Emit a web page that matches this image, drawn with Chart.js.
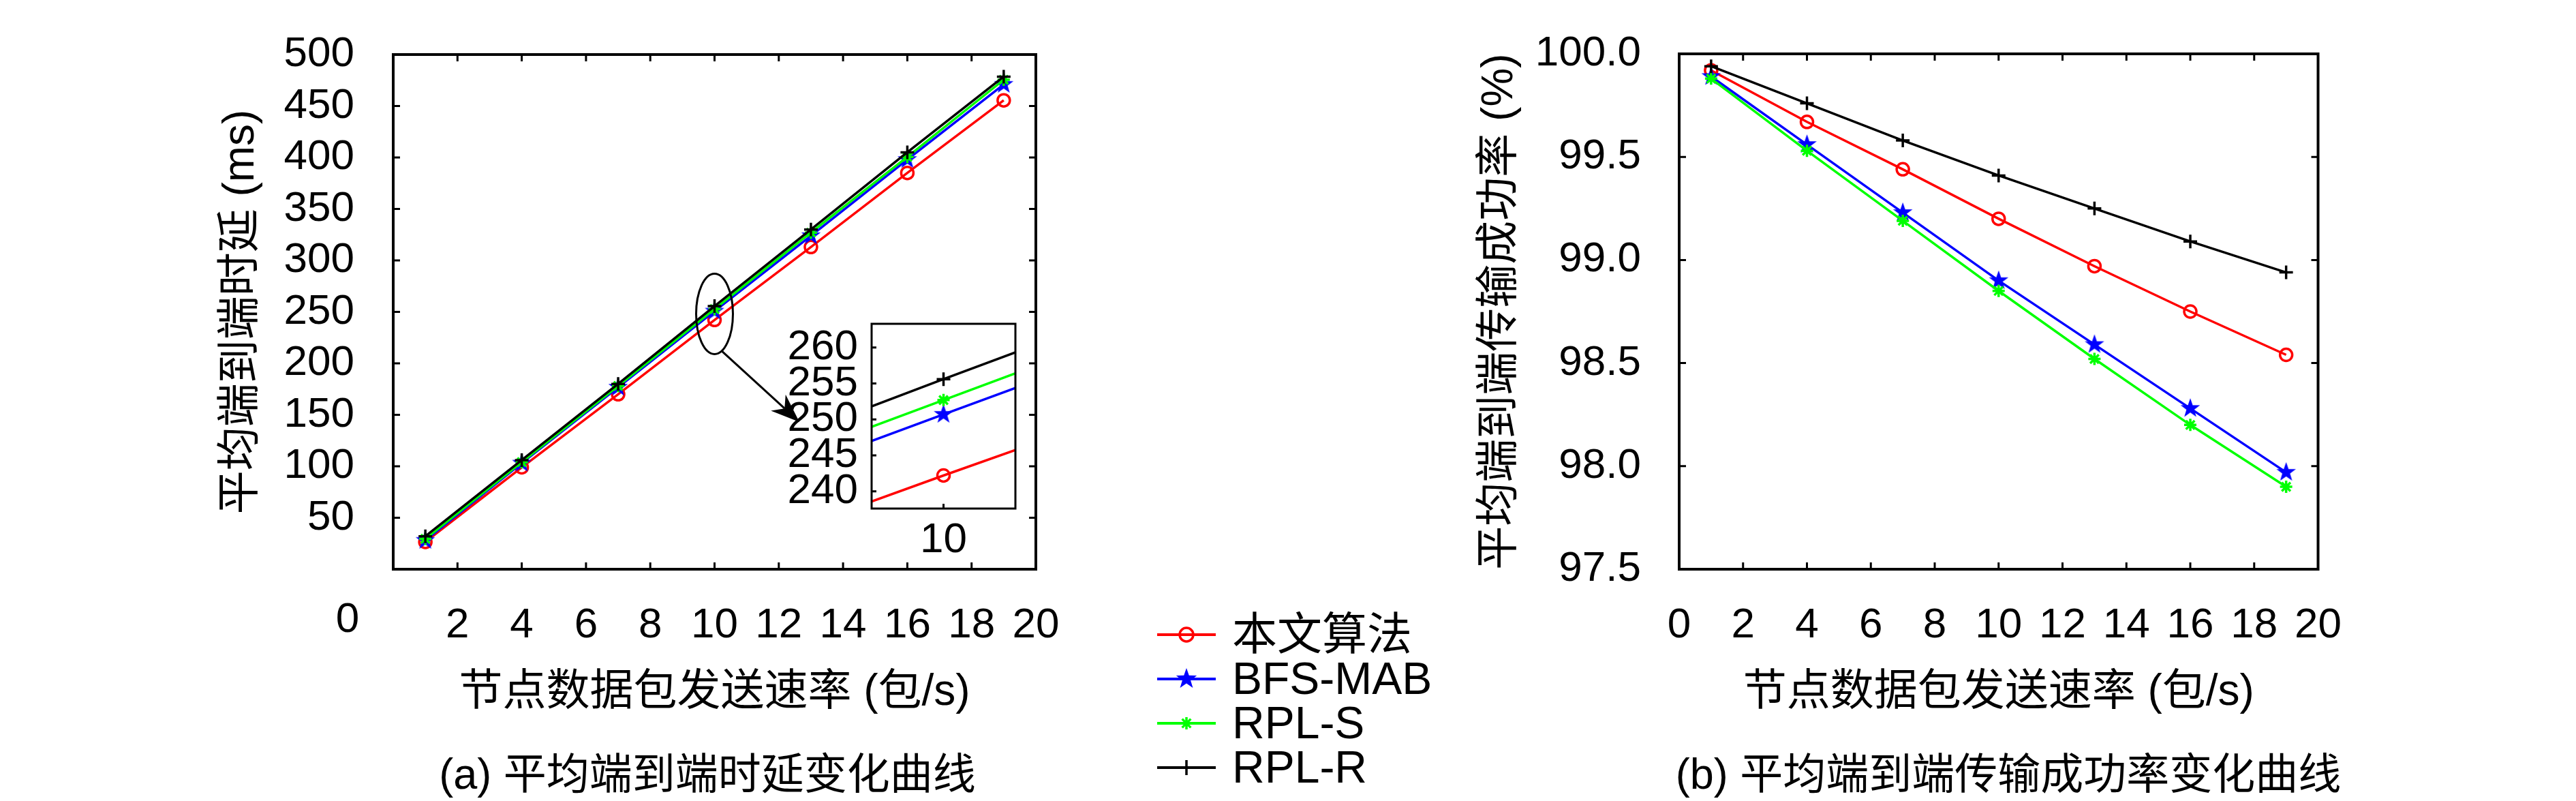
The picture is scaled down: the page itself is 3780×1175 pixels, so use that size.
<!DOCTYPE html>
<html>
<head>
<meta charset="utf-8">
<script src="https://cdn.jsdelivr.net/npm/chart.js@4.4.1/dist/chart.umd.min.js"></script>
<style>
  html, body { margin: 0; padding: 0; background: #fff; }
  body { width: 3780px; height: 1175px; position: relative; overflow: hidden;
         font-family: "Liberation Sans", "Noto Sans CJK SC", sans-serif; color: #000; }
  .box { position: absolute; }
  .caption { position: absolute; width: 1200px; top: 1100px; text-align: center;
             font-size: 63px; line-height: 70px; white-space: nowrap; }
  #legend { position: absolute; left: 1690px; top: 898px; }
  .row { display: flex; align-items: center; height: 65px; }
  .row canvas { width: 110px; height: 40px; margin-right: 8px; }
  .row span { font-size: 66px; line-height: 65px; white-space: nowrap; }
</style>
</head>
<body>
<div class="box" style="left:0;top:0;width:1600px;height:1060px"><canvas id="delay-chart"></canvas></div>
<div class="box" style="left:1800px;top:0;width:1680px;height:1060px"><canvas id="pdr-chart"></canvas></div>
<div class="box" style="left:1100px;top:400px;width:420px;height:440px"><canvas id="inset-chart"></canvas></div>
<div id="legend"></div>
<div class="caption" style="left:438px">(a) 平均端到端时延变化曲线</div>
<div class="caption" style="left:2347px">(b) 平均端到端传输成功率变化曲线</div>

<script>
const rates = [1, 4, 7, 10, 13, 16, 19]
const seriesNames = ["本文算法", "BFS-MAB", "RPL-S", "RPL-R"]

// delay (ms)
const delayOurs = [26.5, 99, 170, 242.2, 313, 385, 455.5]
const delayBfs = [28, 103, 176.8, 250.7, 324, 398, 471]
const delayRplS = [29.5, 104, 178, 252.7, 327, 400.5, 475.5]
const delayRplR = [32, 106, 180, 255.6, 330, 405, 478.5]

// delivery ratio (%)
const pdrOurs = [99.92, 99.67, 99.44, 99.20, 98.97, 98.75, 98.54]
const pdrBfs = [99.89, 99.56, 99.23, 98.90, 98.59, 98.28, 97.97]
const pdrRplS = [99.88, 99.53, 99.19, 98.85, 98.52, 98.20, 97.90]
const pdrRplR = [99.94, 99.76, 99.58, 99.41, 99.25, 99.09, 98.94]

const xTicks = [0, 2, 4, 6, 8, 10, 12, 14, 16, 18, 20]
const delayTicks = [50, 100, 150, 200, 250, 300, 350, 400, 450, 500]
const pdrTicks = [97.5, 98.0, 98.5, 99.0, 99.5, 100.0]
const insetYTicks = [240, 245, 250, 255, 260]
const insetXTicks = [10]

const FONT = '"Liberation Sans", "Noto Sans CJK SC", sans-serif'
const colors = ["#ff0000", "#0000ff", "#00ff00", "#000000"]

Chart.defaults.font.family = FONT
Chart.defaults.color = "#000"
Chart.defaults.devicePixelRatio = 1

function pentagram(color, r) {
  const c = document.createElement("canvas")
  const s = Math.ceil(2 * r + 4)
  c.width = c.height = s
  const g = c.getContext("2d")
  g.fillStyle = color
  g.beginPath()
  for (let k = 0; k < 10; k++) {
    const rad = k % 2 ? r * 0.4 : r
    const a = -Math.PI / 2 + k * Math.PI / 5
    const px = s / 2 + rad * Math.cos(a)
    const py = s / 2 + rad * Math.sin(a)
    k ? g.lineTo(px, py) : g.moveTo(px, py)
  }
  g.closePath()
  g.fill()
  return c
}

const markers = ["circle", pentagram(colors[1], 15), "star", "cross"]
const radii = [9, 15, 9, 10]

function makeDatasets(series) {
  return series.map((vals, i) => ({
    label: seriesNames[i],
    data: rates.map((x, j) => ({ x, y: vals[j] })),
    borderColor: colors[i],
    backgroundColor: colors[i],
    borderWidth: 3.5,
    pointStyle: markers[i],
    pointRadius: radii[i],
    pointBorderWidth: 3.5,
    pointBorderColor: colors[i],
    pointBackgroundColor: i === 0 ? "rgba(0,0,0,0)" : colors[i],
    order: 4 - i,
    tension: 0
  }))
}

// box round the plot and MATLAB style inward ticks
const framePlugin = {
  id: "frame",
  afterDraw(chart, args, o) {
    const { ctx, chartArea: a, scales } = chart
    const len = o.tick
    ctx.save()
    ctx.strokeStyle = "#000"
    ctx.lineWidth = o.width
    ctx.strokeRect(a.left, a.top, a.right - a.left, a.bottom - a.top)
    ctx.lineWidth = 3
    ctx.beginPath()
    scales.x.ticks.forEach((t) => {
      const px = scales.x.getPixelForValue(t.value)
      ctx.moveTo(px, a.bottom); ctx.lineTo(px, a.bottom - len)
      if (o.all) { ctx.moveTo(px, a.top); ctx.lineTo(px, a.top + len) }
    })
    scales.y.ticks.forEach((t) => {
      const py = scales.y.getPixelForValue(t.value)
      ctx.moveTo(a.left, py); ctx.lineTo(a.left + len, py)
      if (o.all) { ctx.moveTo(a.right, py); ctx.lineTo(a.right - len, py) }
    })
    ctx.stroke()
    ctx.restore()
  }
}

// the "0" of the left x axis sits left of the box in the source figure
const zeroLabelPlugin = {
  id: "zeroLabel",
  afterDraw(chart, args, o) {
    const { ctx, chartArea: a } = chart
    ctx.save()
    ctx.font = "62px " + FONT
    ctx.fillStyle = "#000"
    ctx.textAlign = "center"
    ctx.textBaseline = "middle"
    ctx.fillText("0", chart.scales.x.getPixelForValue(0) + o.dx, a.bottom + o.dy)
    ctx.restore()
  }
}

// ellipse round the zoomed region and arrow to the inset
const zoomMarkPlugin = {
  id: "zoomMark",
  afterDraw(chart, args, o) {
    const { ctx, scales: { x, y } } = chart
    const cx = x.getPixelForValue(o.x)
    const cy = y.getPixelForValue(o.y)
    ctx.save()
    ctx.strokeStyle = "#000"
    ctx.fillStyle = "#000"
    ctx.lineWidth = 3
    ctx.beginPath()
    ctx.ellipse(cx, cy, o.rx, o.ry, 0, 0, 2 * Math.PI)
    ctx.stroke()

    const sx = cx + o.rx * Math.cos(o.startAngle)
    const sy = cy + o.ry * Math.sin(o.startAngle)
    const [ex, ey] = o.end
    const ang = Math.atan2(ey - sy, ex - sx)
    const hl = 42, hw = 16
    const cos = Math.cos(ang), sin = Math.sin(ang)
    const bx = ex - hl * cos, by = ey - hl * sin
    const nx = ex - hl * 0.7 * cos, ny = ey - hl * 0.7 * sin
    ctx.beginPath()
    ctx.moveTo(sx, sy)
    ctx.lineTo(nx, ny)
    ctx.stroke()
    ctx.beginPath()
    ctx.moveTo(ex, ey)
    ctx.lineTo(bx + hw * sin, by - hw * cos)
    ctx.lineTo(nx, ny)
    ctx.lineTo(bx - hw * sin, by + hw * cos)
    ctx.closePath()
    ctx.fill()
    ctx.restore()
  }
}

function axisOptions(cfg) {
  return {
    x: {
      type: "linear",
      min: cfg.xMin, max: cfg.xMax,
      afterBuildTicks: (s) => { s.ticks = cfg.xTicks.map((v) => ({ value: v })) },
      afterFit: (s) => { s.height = cfg.xHeight },
      grid: { display: false },
      border: { display: false },
      ticks: {
        font: { size: 62, lineHeight: 1 },
        padding: cfg.xPad,
        maxRotation: 0,
        autoSkip: false,
        callback: cfg.xFmt || ((v) => String(v))
      },
      title: cfg.xTitle ? {
        display: true,
        text: cfg.xTitle,
        font: { size: 64, lineHeight: 1.2 },
        padding: { top: 0, bottom: 5 }
      } : { display: false }
    },
    y: {
      type: "linear",
      min: cfg.yMin, max: cfg.yMax,
      afterBuildTicks: (s) => { s.ticks = cfg.yTicks.map((v) => ({ value: v })) },
      afterFit: (s) => { s.width = cfg.yWidth },
      grid: { display: false },
      border: { display: false },
      ticks: {
        font: { size: 62, lineHeight: 1 },
        padding: cfg.yPad,
        autoSkip: false,
        callback: cfg.yFmt || ((v) => String(v))
      },
      title: cfg.yTitle ? {
        display: true,
        text: cfg.yTitle,
        font: { size: 64, lineHeight: 1.2 },
        padding: { top: cfg.yTitlePad, bottom: 0 }
      } : { display: false }
    }
  }
}

function baseChart(canvas, series, cfg, plugins, pluginOpts) {
  return new Chart(canvas, {
    type: "line",
    data: { datasets: makeDatasets(series) },
    options: {
      responsive: true,
      maintainAspectRatio: false,
      animation: false,
      events: [],
      layout: { padding: cfg.padding },
      scales: axisOptions(cfg),
      plugins: Object.assign({
        legend: { display: false },
        tooltip: { enabled: false }
      }, pluginOpts)
    },
    plugins
  })
}

baseChart(
  document.getElementById("delay-chart"),
  [delayOurs, delayBfs, delayRplS, delayRplR],
  {
    xMin: 0, xMax: 20, yMin: 0, yMax: 500,
    xTicks, yTicks: delayTicks,
    xFmt: (v) => (v === 0 ? "" : String(v)),
    xHeight: 225, yWidth: 577, xPad: 44, yPad: 49,
    padding: { top: 34, right: 80, left: 0, bottom: 0 },
    xTitle: "节点数据包发送速率 (包/s)",
    yTitle: "平均端到端时延 (ms)", yTitlePad: 316
  },
  [framePlugin, zeroLabelPlugin, zoomMarkPlugin],
  {
    frame: { tick: 10, all: true, width: 4 },
    zeroLabel: { dx: -67, dy: 75 },
    zoomMark: { x: 10, y: 248, rx: 27, ry: 59, startAngle: 1.17, end: [1173, 619] }
  }
)

baseChart(
  document.getElementById("pdr-chart"),
  [pdrOurs, pdrBfs, pdrRplS, pdrRplR],
  {
    xMin: 0, xMax: 20, yMin: 97.5, yMax: 100,
    xTicks, yTicks: pdrTicks,
    yFmt: (v) => Number(v).toFixed(1),
    xHeight: 225, yWidth: 664, xPad: 44, yPad: 48,
    padding: { top: 34, right: 73, left: 0, bottom: 0 },
    xTitle: "节点数据包发送速率 (包/s)",
    yTitle: "平均端到端传输成功率 (%)", yTitlePad: 363
  },
  [framePlugin],
  { frame: { tick: 10, all: true, width: 4 } }
)

baseChart(
  document.getElementById("inset-chart"),
  [delayOurs, delayBfs, delayRplS, delayRplR],
  {
    xMin: 9.85, xMax: 10.15, yMin: 237.6, yMax: 263.3,
    xTicks: insetXTicks, yTicks: insetYTicks,
    xHeight: 94, yWidth: 179, xPad: 8, yPad: 12,
    padding: { top: 75, right: 30, left: 0, bottom: 0 }
  },
  [framePlugin],
  { frame: { tick: 7, all: false, width: 3 } }
)

// legend: line + marker sample and the series name
const legend = document.getElementById("legend")
seriesNames.forEach((name, i) => {
  const row = document.createElement("div")
  row.className = "row"
  const c = document.createElement("canvas")
  c.width = 110
  c.height = 40
  const g = c.getContext("2d")
  g.strokeStyle = colors[i]
  g.fillStyle = colors[i]
  g.lineWidth = 4
  g.beginPath()
  g.moveTo(8, 20); g.lineTo(94, 20)
  g.stroke()
  g.lineWidth = 3.5
  const mx = 51, my = 20
  if (i === 0) {
    g.beginPath(); g.arc(mx, my, 10, 0, 2 * Math.PI); g.stroke()
  } else if (i === 1) {
    const st = pentagram(colors[1], 16)
    g.drawImage(st, mx - st.width / 2, my - st.height / 2)
  } else if (i === 2) {
    g.beginPath()
    for (let k = 0; k < 4; k++) {
      const a = k * Math.PI / 4
      g.moveTo(mx - 9 * Math.cos(a), my - 9 * Math.sin(a))
      g.lineTo(mx + 9 * Math.cos(a), my + 9 * Math.sin(a))
    }
    g.stroke()
  } else {
    g.beginPath()
    g.moveTo(mx, my - 11); g.lineTo(mx, my + 11)
    g.stroke()
  }
  const label = document.createElement("span")
  label.textContent = name
  row.appendChild(c)
  row.appendChild(label)
  legend.appendChild(row)
})
</script>
</body>
</html>
